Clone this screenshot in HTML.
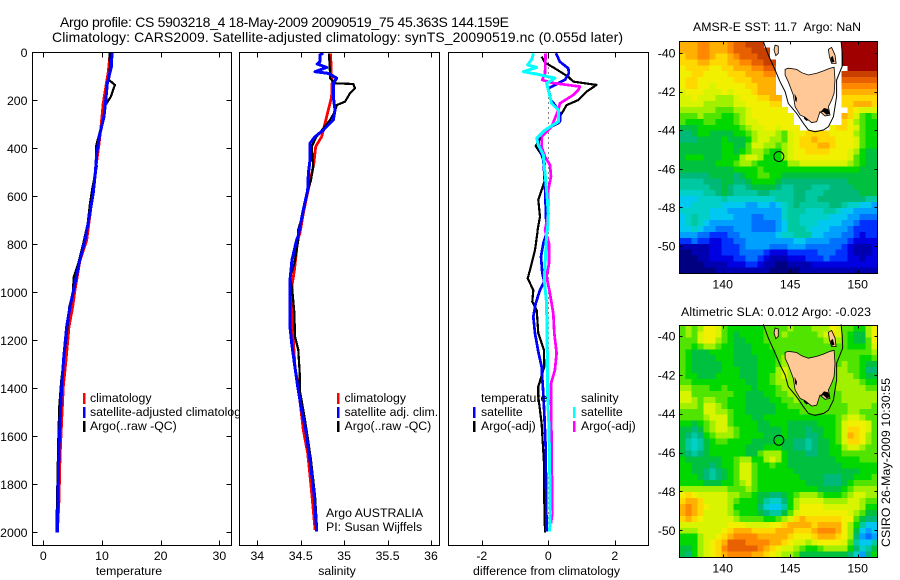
<!DOCTYPE html>
<html lang="en">
<head>
<meta charset="utf-8">
<title>Argo profile</title>
<style>
html,body{margin:0;padding:0;background:#fff;}
svg{display:block;}
text{font-family:"Liberation Sans",sans-serif;font-size:12.3px;fill:#000;}
</style>
</head>
<body>
<svg id="chart" xmlns="http://www.w3.org/2000/svg" width="900" height="580" viewBox="0 0 900 580">
<rect x="0" y="0" width="900" height="580" fill="#fff"/>
<text x="60" y="27" style="font-size:14px" textLength="449" lengthAdjust="spacing">Argo profile: CS 5903218_4 18-May-2009 20090519_75 45.363S 144.159E</text>
<text x="52" y="42" style="font-size:14px" textLength="571" lengthAdjust="spacing">Climatology: CARS2009. Satellite-adjusted climatology: synTS_20090519.nc (0.055d later)</text>

<g id="panel-temp"></g>
<g>
  <rect x="83" y="393" width="2.5" height="11" fill="#f00"/>
  <rect x="83" y="407" width="2.5" height="11" fill="#00f"/>
  <rect x="83" y="421" width="2.5" height="11" fill="#000"/>
  <text x="90" y="402">climatology</text>
  <text x="90" y="416">satellite-adjusted climatology</text>
  <text x="90" y="430">Argo(..raw -QC)</text>
</g>
<text x="129" y="575" text-anchor="middle">temperature</text>

<g id="panel-sal"></g>
<g>
  <rect x="337" y="393" width="2.5" height="11" fill="#f00"/>
  <rect x="337" y="407" width="2.5" height="11" fill="#00f"/>
  <rect x="337" y="421" width="2.5" height="11" fill="#000"/>
  <text x="344.5" y="402">climatology</text>
  <text x="344.5" y="416">satellite adj. clim.</text>
  <text x="344.5" y="430">Argo(..raw -QC)</text>
  <text x="326" y="517">Argo AUSTRALIA</text>
  <text x="326" y="531">PI: Susan Wijffels</text>
</g>
<text x="337" y="575" text-anchor="middle">salinity</text>

<g id="panel-diff"></g>
<g>
  <text x="481" y="402">temperature</text>
  <rect x="473" y="407" width="2.5" height="11" fill="#00f"/>
  <rect x="473" y="421" width="2.5" height="11" fill="#000"/>
  <text x="481" y="416">satellite</text>
  <text x="481" y="430">Argo(-adj)</text>
  <text x="581" y="402">salinity</text>
  <rect x="573" y="407" width="2.5" height="11" fill="#0ff"/>
  <rect x="573" y="421" width="2.5" height="11" fill="#f0f"/>
  <text x="581" y="416">satellite</text>
  <text x="581" y="430">Argo(-adj)</text>
</g>
<text x="473" y="575" textLength="147" lengthAdjust="spacing">difference from climatology</text>

<text x="693" y="31" textLength="168" lengthAdjust="spacing">AMSR-E SST: 11.7&#160; Argo: NaN</text>
<g id="map-sst"></g>
<text x="681" y="316" textLength="190" lengthAdjust="spacing">Altimetric SLA: 0.012 Argo: -0.023</text>
<g id="map-sla"></g>
<text transform="translate(890,547) rotate(-90)" textLength="169" lengthAdjust="spacing">CSIRO 26-May-2009 10:30:55</text>
</svg>

<script>
// ---------- profile axes ----------
const depthTicks = [0,200,400,600,800,1000,1200,1400,1600,1800,2000];
const tempTicks = [0,10,20,30];
const salTicks = [34,34.5,35,35.5,36];
const salTickLabels = ['34','34.5','35','35.5','36'];
const diffTicks = [-2,0,2];

// ---------- temperature series ----------
const climTempDepth = [0,80,212,310,393,505,644,783,866,990,1060,1143,1282,1393,1532,1685,1865,2000];
const climTemp = [11.4,11.07,10.2,9.83,9.44,8.8,8.13,7.4,6.25,5.4,5.0,4.38,3.87,3.4,3.13,2.85,2.67,2.4];
const argoTempDepth = [0,60,115,136,185,220,282,338,393,476,560,630,713,797,880,936,1006,1060,1116,1240,1365,1476,1615,1740,1935,2000];
const argoTemp = [11.3,11.36,11.2,12.2,11.5,10.6,10.2,9.55,8.98,9.1,8.4,7.95,7.56,6.8,5.96,5.2,5.0,4.43,4.26,3.7,3.07,2.73,2.55,2.45,2.28,2.3];
const satTempDepth = [0,60,130,185,268,338,421,505,588,685,783,880,963,1060,1143,1270,1365,1460,1615,1782,2000];
const satTemp = [11.7,11.6,10.9,10.7,10.34,9.66,9.1,8.86,8.5,7.84,7.1,6.1,5.4,4.55,3.98,3.5,3.2,3.0,2.73,2.55,2.38];

// ---------- salinity series ----------
const climSalDepth = [4,88,115,185,240,296,352,393,463,518,601,671,754,782,907,963,1060,1199,1310,1393,1574,1671,1810,1990];
const climSal = [34.845,34.85,34.864,34.856,34.818,34.78,34.74,34.672,34.65,34.62,34.57,34.53,34.49,34.465,34.427,34.403,34.403,34.415,34.434,34.472,34.53,34.58,34.62,34.665];
const argoSalDepth = [4,88,108,129,132,150,171,206,220,247,282,317,352,393,435,476,532,615,671,740,782,879,935,990,1088,1185,1240,1338,1407,1490,1574,1699,1851,1990];
const argoSal = [34.826,34.837,34.837,34.895,35.106,35.125,35.067,35.01,34.914,34.895,34.837,34.76,34.68,34.626,34.634,34.645,34.618,34.55,34.53,34.47,34.472,34.427,34.377,34.403,34.427,34.434,34.472,34.488,34.488,34.53,34.568,34.618,34.665,34.688];
const satSalDepth = [4,11,39,49,63,81,88,108,129,185,240,282,324,352,379,449,504,574,657,768,782,865,949,1143,1213,1296,1393,1490,1574,1699,1838,1997];
const satSal = [34.76,34.72,34.72,34.69,34.80,34.664,34.82,34.914,34.875,34.875,34.895,34.875,34.76,34.664,34.607,34.607,34.588,34.58,34.53,34.47,34.453,34.40,34.377,34.377,34.396,34.427,34.465,34.51,34.557,34.607,34.653,34.684];

// ---------- difference series ----------
const diffArgoTempDepth = [18,43,67,102,122,136,164,199,220,268,296,324,391,428,463,532,615,685,738,755,824,907,942,991,1039,1074,1171,1241,1310,1393,1434,1546,1712,1872,2000];
const diffArgoTemp = [-0.2,-0.1,0.2,0.6,0.75,1.45,1.15,0.9,0.55,0.35,0.3,-0.1,-0.38,-0.2,-0.1,-0.1,-0.3,-0.25,-0.32,-0.33,-0.4,-0.55,-0.62,-0.45,-0.48,-0.35,-0.3,-0.13,-0.12,-0.3,-0.3,-0.2,-0.13,-0.12,-0.1];
const diffSatTempDepth = [4,39,67,88,115,150,199,220,254,289,317,352,393,449,504,560,755,796,852,921,956,991,1046,1102,1171,1248,1310,1380,1421,1504,1643,1997];
const diffSatTemp = [0.23,0.35,0.6,0.62,0.5,0,0.08,0.2,0.35,0.35,0,-0.3,-0.28,-0.15,-0.12,-0.1,-0.05,-0.15,-0.22,-0.18,-0.12,-0.25,-0.38,-0.45,-0.4,-0.3,-0.2,-0.17,-0.15,-0.12,-0.08,-0.05];
const diffArgoSalDepth = [4,88,115,127,143,157,178,213,240,282,310,352,393,435,470,518,574,671,741,796,880,935,1005,1088,1171,1254,1324,1380,1434,1643,1921,1962];
const diffArgoSal = [-0.08,-0.1,-0.18,0.1,0.95,0.9,0.75,0.35,0.3,0.18,0.1,-0.2,-0.2,-0.1,0.05,0.08,0,0,-0.1,0.02,0.02,-0.05,0.05,0.15,0.18,0.25,0.2,0.08,0.08,0.1,0.12,0.08];
const diffSatSalDepth = [4,25,53,63,81,92,108,129,185,213,240,289,324,358,386,428,504,574,671,737,755,949,1046,1254,1435,1559,1712,1921,1997];
const diffSatSal = [-0.45,-0.48,-0.62,-0.35,-0.75,-0.3,0.2,-0.05,0.05,0.1,0.3,0.3,-0.1,-0.35,-0.3,-0.15,-0.1,-0.05,0,-0.02,-0.05,-0.12,-0.05,-0.03,-0.02,0.02,0.04,0.06,0.04];
const zeroLineDepths = [0,2000];

// ---------- map axes and colour levels ----------
const lonTicks = [140,145,150];
const latTicks = [-40,-42,-44,-46,-48,-50];
const floatLon = 144.159;
const floatLat = -45.363;
const levelColors = ['#000080','#0000b0','#0000e0','#0030ff','#0070ff','#00a0ff','#00c8f0','#00d0c8','#00c8a0','#00b878','#00c040','#00d800','#50e400','#a0f000','#d8f400','#f0f000','#ffd800','#ffb000','#ff8800','#e86000','#c84000','#a00000'];

// ---------- coast and contour (lon / lat) ----------
const tasmaniaLon = [144.62,144.86,145.48,145.85,146.35,146.96,147.46,147.95,148.25,148.32,148.25,148.07,147.83,147.95,147.58,147.21,146.96,146.59,146.10,145.73,145.36,145.23,144.86,144.62];
const tasmaniaLat = [-40.85,-40.79,-40.85,-41.02,-41.14,-41.05,-40.93,-40.79,-40.74,-41.40,-42.09,-42.44,-42.78,-43.21,-43.26,-43.04,-43.56,-43.61,-43.33,-43.21,-42.78,-42.18,-41.49,-41.14];
const flindersLon = [147.83,148.07,148.32,148.4,148.07,147.9];
const flindersLat = [-39.81,-39.71,-40.10,-40.54,-40.54,-40.19];
const kingLon = [143.88,144.12,144.12,143.93,143.8];
const kingLat = [-39.59,-39.64,-40.02,-40.14,-39.84];
const inletALon = [145.32,145.5,145.47,145.36];
const inletALat = [-42.1,-42.35,-42.55,-42.45];
const inletBLon = [147.2,147.5,147.8,147.95,147.7,147.45];
const inletBLat = [-43.1,-42.85,-42.9,-43.15,-43.2,-43.05];
const inletCLon = [146.05,146.35,146.2,146.0];
const inletCLat = [-43.28,-43.48,-43.52,-43.38];
const inletDLon = [147.98,148.15,148.28,148.08];
const inletDLat = [-40.25,-40.15,-40.45,-40.5];
const contourLon = [143.01,143.38,143.88,144.25,144.62,144.86,145.48,145.98,146.35,146.84,147.46,147.83,148.2,148.44,148.44,148.89,148.86,148.77];
const contourLat = [-39.40,-40.10,-40.88,-41.49,-42.0,-42.61,-43.13,-43.64,-43.99,-44.08,-43.99,-43.82,-43.3,-42.26,-41.40,-40.62,-40.02,-39.40];

// ---------- SST grid: colour level per cell, null = masked ----------
const n = null;
const sstGrid = [
[17,17,17,18,18,17,17,17,18,19,19,20,20,20,n,n,n,n,n,n,n,n,n,n,n,n,n,21,21,21,21,21,21],
[17,17,17,18,18,17,17,17,18,19,19,19,20,20,20,n,n,n,n,n,n,n,n,n,n,n,n,21,21,21,21,21,21],
[16,17,17,18,18,17,16,16,17,18,19,19,19,20,20,n,n,n,n,n,n,n,n,n,n,n,n,21,21,21,21,21,21],
[16,16,16,17,17,16,16,16,17,17,18,18,19,19,20,20,n,n,n,n,n,n,n,n,n,n,n,21,21,21,21,21,21],
[15,16,16,16,16,15,15,16,16,17,17,17,18,18,19,19,n,n,n,n,n,n,n,n,n,n,n,n,21,21,21,21,21],
[15,15,16,16,15,15,15,15,16,16,16,17,17,17,18,18,n,n,n,n,n,n,n,n,n,n,n,20,20,20,20,20,20],
[15,16,16,15,15,15,15,15,15,16,16,16,17,17,17,17,n,n,n,n,n,n,n,n,n,n,n,19,19,19,19,19,19],
[15,16,16,15,15,14,15,15,15,15,15,16,16,17,17,17,n,n,n,n,n,n,n,n,n,n,n,18,18,18,18,18,18],
[14,15,15,15,14,14,14,15,14,15,15,15,16,17,17,17,n,n,n,n,n,n,n,n,n,n,n,17,17,17,17,17,17],
[14,14,15,14,14,14,13,13,13,14,15,15,15,16,16,17,17,n,n,n,n,n,n,n,n,n,n,16,16,16,16,16,16],
[14,14,14,14,13,13,13,13,13,14,14,15,15,15,15,16,16,n,n,n,n,n,n,n,n,n,n,16,16,17,17,17,16],
[13,13,13,13,13,13,12,12,12,13,13,14,15,15,15,15,15,15,n,n,n,n,n,n,n,n,n,n,16,15,14,14,14],
[12,12,12,13,12,12,12,11,11,12,13,14,15,15,15,15,15,15,15,n,n,n,n,n,n,n,n,17,16,14,12,11,12],
[12,11,11,11,12,12,11,11,11,12,13,14,14,15,15,15,15,15,15,n,n,n,n,n,n,n,n,16,15,13,12,11,11],
[10,10,10,11,11,11,11,11,11,11,12,13,14,14,15,15,14,15,15,15,n,n,n,n,n,15,16,16,15,14,12,11,11],
[9,9,10,11,11,10,10,10,10,11,11,12,13,14,14,14,13,12,14,15,15,16,16,16,16,15,15,15,15,13,12,11,11],
[9,9,9,10,10,10,10,11,10,10,10,11,13,14,14,13,13,12,14,15,16,16,17,16,16,16,15,15,15,14,12,11,11],
[10,10,10,10,10,10,10,11,11,10,10,12,14,14,13,13,12,13,14,15,16,16,16,17,17,16,15,15,15,14,12,11,11],
[10,10,10,10,10,10,10,11,11,10,11,12,13,13,12,11,11,13,14,15,15,16,16,16,16,15,15,15,14,13,11,10,10],
[10,11,11,11,10,10,10,11,11,11,13,14,14,13,11,11,11,13,14,15,15,15,15,15,15,15,15,15,14,12,11,10,10],
[10,10,10,10,10,10,11,11,11,12,13,13,12,11,11,11,11,11,13,13,14,14,14,14,14,14,14,14,13,12,11,10,10],
[10,10,10,10,10,10,10,10,10,11,11,11,11,12,11,11,11,11,11,11,11,11,11,11,11,11,11,11,11,11,10,10,10],
[9,9,9,9,9,10,10,10,10,9,10,11,11,12,12,11,11,10,10,10,10,10,10,10,10,10,10,10,10,10,10,10,10],
[8,8,8,8,9,9,9,10,10,9,9,10,11,11,11,11,10,9,9,9,9,9,9,9,9,9,9,9,10,10,10,10,10],
[8,8,8,8,8,9,9,10,9,8,8,9,10,10,10,10,9,8,8,9,9,9,8,8,8,9,9,9,9,10,10,10,10],
[7,7,7,7,8,8,9,10,9,8,8,8,8,9,9,8,8,8,8,9,9,8,8,8,9,9,9,9,9,9,10,10,10],
[6,6,6,7,7,7,7,8,7,7,7,7,7,7,7,7,8,8,8,9,9,8,8,9,9,9,9,9,9,9,9,8,8],
[6,6,7,7,7,7,7,6,6,6,6,5,5,6,6,5,6,7,8,9,8,8,8,8,8,9,9,8,7,7,6,6,5],
[7,7,7,7,7,6,6,6,5,5,5,5,5,5,5,5,5,7,8,8,8,7,7,7,8,8,7,6,6,5,5,5,5],
[6,7,8,7,7,6,6,6,6,5,5,5,4,4,5,5,5,7,8,8,7,7,7,7,7,6,6,6,5,5,4,4,4],
[6,7,8,7,6,5,5,5,5,5,5,5,4,4,4,4,5,6,8,8,7,7,7,6,6,6,6,5,5,4,3,3,3],
[6,6,7,6,5,5,4,4,4,5,5,5,4,4,4,4,5,6,8,8,8,7,6,6,6,5,5,5,4,3,3,3,3],
[5,5,5,4,4,3,3,3,4,4,5,5,5,5,5,5,6,7,7,8,8,8,6,6,5,5,5,4,4,3,2,3,3],
[3,3,4,3,3,2,2,3,3,4,4,5,5,5,5,5,5,5,5,6,6,5,5,5,5,4,4,4,3,2,2,2,2],
[1,1,1,1,1,2,2,3,3,3,4,5,5,5,5,4,4,4,5,5,5,4,4,4,4,4,4,3,2,1,1,1,2],
[0,0,1,1,1,2,2,3,3,3,4,4,4,4,3,2,2,2,3,3,3,3,3,4,4,4,3,3,2,1,1,1,2],
[0,0,0,1,1,2,2,2,2,3,3,4,4,3,2,1,1,1,2,2,2,3,3,3,4,3,3,3,2,2,1,2,2],
[0,0,0,0,1,1,1,1,2,2,2,3,3,2,1,1,0,0,1,1,1,1,2,2,2,2,2,2,2,2,2,2,2],
[0,0,0,0,0,0,1,1,1,1,1,1,1,1,1,0,0,0,0,0,1,1,1,1,1,1,1,1,1,1,1,1,1]
];

// ---------- SLA grid: colour level per cell ----------
const slaGrid = [
[12,13,12,13,15,15,14,12,11,11,11,11,11,11,12,12,12,12,13,12,12,12,13,13,13,15,14,12,12,11,11,13,15],
[12,13,12,14,15,15,14,12,11,10,11,11,11,11,12,12,12,13,12,12,12,12,12,13,14,16,14,12,11,10,10,13,15],
[12,12,12,14,15,15,13,12,11,10,10,11,11,11,12,12,12,12,12,12,12,12,12,12,13,14,13,12,11,10,10,12,15],
[12,12,11,12,13,13,12,11,11,10,10,10,11,11,11,12,12,12,12,12,12,12,12,12,12,12,12,12,11,11,11,12,14],
[12,11,10,10,10,11,11,11,11,10,10,10,11,11,11,11,12,12,12,12,12,12,12,12,12,12,12,12,12,12,12,12,13],
[12,11,10,10,10,10,11,11,11,10,10,10,10,11,11,11,12,13,12,12,12,12,12,12,12,12,12,12,12,12,11,11,12],
[12,11,10,10,10,10,10,11,11,10,10,10,10,11,11,11,12,13,13,12,12,12,12,12,12,12,12,13,12,12,11,10,10],
[12,11,10,10,10,10,10,11,11,11,10,10,10,11,11,11,13,14,13,12,12,12,12,12,12,12,13,13,12,12,11,9,9],
[12,11,11,10,10,10,11,11,11,11,10,10,10,11,11,12,13,14,13,12,12,12,12,12,12,12,13,13,13,12,11,10,10],
[12,12,11,11,11,11,11,11,11,11,11,10,10,11,11,12,13,13,13,13,12,12,12,12,12,12,13,13,13,13,12,11,11],
[13,13,12,12,12,11,11,12,11,11,11,11,10,11,11,11,12,13,13,13,12,12,12,12,12,12,13,13,13,13,13,12,12],
[14,14,12,12,12,12,12,12,12,11,11,10,10,10,11,11,12,12,13,13,12,12,12,12,12,12,12,13,13,13,13,13,13],
[14,14,13,12,13,13,12,12,11,11,11,10,10,10,10,11,11,12,12,13,12,12,12,12,12,12,12,13,13,13,13,13,13],
[13,13,13,12,14,14,13,12,11,11,11,10,10,10,10,10,11,11,12,12,12,12,12,12,12,12,12,12,13,13,13,13,12],
[12,12,12,12,14,14,13,13,12,11,11,10,10,10,10,10,11,11,11,11,12,12,12,12,12,12,12,12,13,13,12,12,12],
[12,12,12,12,13,14,14,14,12,11,11,11,10,10,11,11,11,11,11,11,11,11,11,11,11,11,12,13,14,14,13,12,12],
[11,11,10,11,12,13,14,14,12,11,11,11,11,10,10,11,11,11,10,10,10,10,10,11,11,11,12,14,15,15,15,14,12],
[10,10,9,10,12,13,14,14,13,12,11,11,11,10,10,10,10,11,10,10,10,9,10,10,11,11,12,14,16,16,15,14,12],
[10,9,8,9,11,12,13,13,13,12,11,11,11,11,10,10,10,11,10,10,10,9,9,10,11,11,12,14,17,16,15,13,12],
[10,8,7,8,10,11,12,12,11,11,11,11,10,10,10,10,11,10,10,9,9,8,9,10,10,11,12,14,16,16,15,13,12],
[10,8,7,8,10,11,11,11,11,11,11,10,10,10,11,11,11,10,10,9,9,8,9,10,10,11,11,13,14,14,13,12,12],
[10,9,8,9,10,11,11,11,11,11,11,10,10,12,13,13,13,11,10,10,10,9,9,10,10,11,11,12,12,12,12,12,12],
[11,10,10,10,10,10,10,11,11,12,13,13,11,11,13,14,13,11,10,10,10,10,10,10,10,10,11,11,11,11,12,12,12],
[11,11,10,10,10,9,10,11,11,12,14,14,12,11,11,12,11,11,10,10,10,10,10,10,10,10,10,11,11,11,11,11,11],
[11,11,10,10,9,8,9,10,11,12,14,14,12,11,11,11,11,11,11,10,10,10,10,10,10,10,10,10,10,10,11,11,11],
[11,11,11,10,9,8,9,10,11,12,14,14,12,11,11,11,11,11,11,11,10,10,10,10,9,9,9,10,10,11,11,11,12],
[11,11,11,11,10,10,10,11,11,12,13,14,12,11,11,11,11,11,11,11,11,10,10,10,9,9,9,10,11,12,12,12,12],
[13,13,13,13,13,13,13,13,12,12,12,13,12,11,11,11,11,11,11,11,11,11,11,10,10,10,10,11,12,13,13,13,13],
[15,16,15,14,14,14,14,14,13,13,12,12,11,10,10,9,9,10,11,12,13,13,13,12,11,11,11,12,13,14,14,13,13],
[16,17,17,16,14,14,14,14,13,12,11,11,11,10,8,7,7,9,11,13,14,14,14,14,13,13,13,13,14,14,13,12,12],
[17,18,17,16,15,14,14,14,13,11,11,11,11,9,7,6,6,8,11,13,15,15,15,15,14,14,14,14,14,14,13,11,11],
[17,18,17,16,14,14,14,14,13,12,11,11,11,10,9,8,8,10,12,14,15,15,15,15,15,15,15,15,14,13,12,10,10],
[16,17,16,15,14,14,14,14,14,13,12,12,12,12,11,11,12,13,14,16,17,16,16,16,16,16,16,15,15,12,10,9,9],
[14,14,14,14,14,14,14,14,15,15,15,14,14,14,14,15,15,16,17,17,17,17,16,17,17,17,17,15,13,11,8,6,6],
[13,13,13,14,14,14,14,15,16,17,17,17,16,16,16,16,17,17,17,16,16,16,17,18,18,18,17,15,13,10,6,5,6],
[11,11,11,13,14,14,15,16,17,18,18,18,18,17,17,17,17,17,16,15,15,15,16,17,17,17,16,15,13,9,5,4,5],
[11,11,11,13,14,15,16,17,19,19,19,18,18,18,18,17,17,16,15,14,14,13,14,15,15,15,15,14,12,8,6,6,8],
[10,10,11,13,14,15,16,18,19,19,19,19,19,18,17,16,15,14,14,13,12,11,11,12,13,13,13,13,11,9,7,8,10],
[10,9,11,13,14,15,16,17,18,18,18,18,17,17,16,15,14,13,13,12,10,10,10,10,10,10,10,10,9,7,5,9,11]
];

const SVGNS = 'http://www.w3.org/2000/svg';
function mk(tag, attrs, parent){
  const el = document.createElementNS(SVGNS, tag);
  for (const k in attrs) el.setAttribute(k, attrs[k]);
  parent.appendChild(el);
  return el;
}

// depth axis is common to all three profile panels
function depthY(d){ return 52.3 + d * 0.24; }
const PANEL_TOP = 52.5, PANEL_BOTTOM = 545.5;

function drawPanel(group, left, right, xFn, xTicks, xLabels, showY){
  const bg = mk('rect', {x:left, y:PANEL_TOP, width:right-left, height:PANEL_BOTTOM-PANEL_TOP, fill:'#fff', stroke:'none'}, group);
  
  
  const marks = mk('g', {}, group);
  
  
  const frame = mk('rect', {x:left, y:PANEL_TOP, width:right-left, height:PANEL_BOTTOM-PANEL_TOP, fill:'none', stroke:'#000', 'stroke-width':1, 'shape-rendering':'crispEdges'}, group);
  
  
  xTicks.forEach(function(t, i){
    const x = Math.round(xFn(t)) + 0.5;
    const a = mk('line', {x1:x, x2:x, y1:PANEL_TOP, y2:PANEL_TOP+5, stroke:'#000', 'shape-rendering':'crispEdges'}, group);
    
    
    const b = mk('line', {x1:x, x2:x, y1:PANEL_BOTTOM-5, y2:PANEL_BOTTOM, stroke:'#000', 'shape-rendering':'crispEdges'}, group);
    
    
    const lab = mk('text', {x:xFn(t), y:560, 'text-anchor':'middle'}, group);
    lab.textContent = xLabels[i];
    
    
  });
  if (showY) depthTicks.forEach(function(t){
    const y = Math.round(depthY(t)) + 0.5;
    const a = mk('line', {x1:left, x2:left+5, y1:y, y2:y, stroke:'#000', 'shape-rendering':'crispEdges'}, group);
    
    
    const b = mk('line', {x1:right-5, x2:right, y1:y, y2:y, stroke:'#000', 'shape-rendering':'crispEdges'}, group);
    
    
    const lab = mk('text', {x:left-5, y:depthY(t)+4.5, 'text-anchor':'end'}, group);
    lab.textContent = String(t);
    
    
  });
  return marks;
}

function drawSeries(parent, depths, values, xFn, color, width, name){
  const pts = depths.map(function(d, i){ return xFn(values[i]).toFixed(1) + ',' + depthY(d).toFixed(1); }).join(' ');
  const line = mk('polyline', {points:pts, fill:'none', stroke:color, 'stroke-width':width, 'stroke-linejoin':'round', 'shape-rendering':'crispEdges'}, parent);
  
  
}

function tempX(v){ return 43.3 + 5.87 * v; }
function salX(v){ return 257.3 + 86.85 * (v - 34); }
function diffX(v){ return 548.3 + 33.25 * v; }

const tempMarks = drawPanel(document.getElementById('panel-temp'), 32.5, 231.5, tempX, tempTicks, tempTicks.map(String), true);
drawSeries(tempMarks, climTempDepth, climTemp, tempX, '#f00', 2.8, 'climatology-temperature-line');
drawSeries(tempMarks, argoTempDepth, argoTemp, tempX, '#000', 2.2, 'argo-temperature-line');
drawSeries(tempMarks, satTempDepth, satTemp, tempX, '#00f', 3, 'satellite-temperature-line');

// panel 2 is placed after the panel 1 legend so it clips the long legend entry
const salGroup = document.getElementById('panel-sal');
const salMarks = drawPanel(salGroup, 239.5, 439.5, salX, salTicks, salTickLabels, false);
drawSeries(salMarks, climSalDepth, climSal, salX, '#f00', 2.8, 'climatology-salinity-line');
drawSeries(salMarks, argoSalDepth, argoSal, salX, '#000', 2.2, 'argo-salinity-line');
drawSeries(salMarks, satSalDepth, satSal, salX, '#00f', 3, 'satellite-salinity-line');

const diffMarks = drawPanel(document.getElementById('panel-diff'), 448.5, 648.5, diffX, diffTicks, diffTicks.map(String), false);
const zeroLine = mk('line', {x1:diffX(0), x2:diffX(0), y1:depthY(zeroLineDepths[0]), y2:depthY(zeroLineDepths[1]), stroke:'#000', 'stroke-width':1, 'stroke-dasharray':'1 4', 'shape-rendering':'crispEdges'}, diffMarks);


drawSeries(diffMarks, diffArgoTempDepth, diffArgoTemp, diffX, '#000', 2.2, 'argo-temperature-difference-line');
drawSeries(diffMarks, diffSatTempDepth, diffSatTemp, diffX, '#00f', 2.7, 'satellite-temperature-difference-line');
drawSeries(diffMarks, diffArgoSalDepth, diffArgoSal, diffX, '#f0f', 2.7, 'argo-salinity-difference-line');
drawSeries(diffMarks, diffSatSalDepth, diffSatSal, diffX, '#0ff', 3, 'satellite-salinity-difference-line');

// ---------- maps ----------
const MAP_LEFT = 679.5, MAP_RIGHT = 877.5;
function lonX(lon){ return 722.7 + (lon - 140) * 13.5; }

function drawMap(group, top, bottom, lat40Y, pxPerDeg, grid, showLabels, prefix){
  function latY(lat){ return lat40Y + (-40 - lat) * pxPerDeg; }
  function pts(lons, lats){
    return lons.map(function(v, i){ return lonX(v).toFixed(1) + ',' + latY(lats[i]).toFixed(1); }).join(' ');
  }
  const bg = mk('rect', {x:MAP_LEFT, y:top, width:MAP_RIGHT-MAP_LEFT, height:bottom-top, fill:'#fff'}, group);
  
  
  const rows = grid.length;
  const cols = grid[0].length;
  const cw = (MAP_RIGHT - MAP_LEFT) / cols;
  const ch = (bottom - top) / rows;
  const cells = mk('g', {'shape-rendering':'crispEdges'}, group);
  
  
  for (let r = 0; r < rows; r++){
    for (let c = 0; c < cols; c++){
      const v = grid[r][c];
      if (v === null || v === undefined) continue;
      const idx = Math.max(0, Math.min(levelColors.length - 1, Math.round(v)));
      const cell = mk('rect', {x:MAP_LEFT + c * cw, y:top + r * ch, width:cw + 0.5, height:ch + 0.5, fill:levelColors[idx]}, cells);
      
      
    }
  }
  const land = [[tasmaniaLon, tasmaniaLat, 'tasmania'], [flindersLon, flindersLat, 'flinders-island'], [kingLon, kingLat, 'king-island']];
  land.forEach(function(l){
    const p = mk('polygon', {points:pts(l[0], l[1]), fill:'#ffc896', stroke:'#000', 'stroke-width':0.8}, group);
    
    
  });
  const inlets = [[inletALon, inletALat], [inletBLon, inletBLat], [inletCLon, inletCLat], [inletDLon, inletDLat]];
  inlets.forEach(function(l){
    const p = mk('polygon', {points:pts(l[0], l[1]), fill:'#000'}, group);
    
    
  });
  const contour = mk('polyline', {points:pts(contourLon, contourLat), fill:'none', stroke:'#000', 'stroke-width':1}, group);
  
  
  const marker = mk('circle', {cx:lonX(floatLon), cy:latY(floatLat), r:5, fill:'none', stroke:'#000', 'stroke-width':1}, group);
  
  
  const frame = mk('rect', {x:MAP_LEFT, y:top, width:MAP_RIGHT-MAP_LEFT, height:bottom-top, fill:'none', stroke:'#000', 'shape-rendering':'crispEdges'}, group);
  
  
  lonTicks.forEach(function(t){
    const x = Math.round(lonX(t)) + 0.5;
    const a = mk('line', {x1:x, x2:x, y1:top, y2:top+3, stroke:'#000', 'shape-rendering':'crispEdges'}, group);
    
    
    const b = mk('line', {x1:x, x2:x, y1:bottom-3, y2:bottom, stroke:'#000', 'shape-rendering':'crispEdges'}, group);
    
    
    const lab = mk('text', {x:lonX(t), y:bottom+15, 'text-anchor':'middle'}, group);
    lab.textContent = String(t);
    
    
  });
  latTicks.forEach(function(t){
    const y = Math.round(latY(t)) + 0.5;
    const a = mk('line', {x1:MAP_LEFT, x2:MAP_LEFT+3, y1:y, y2:y, stroke:'#000', 'shape-rendering':'crispEdges'}, group);
    
    
    const b = mk('line', {x1:MAP_RIGHT-3, x2:MAP_RIGHT, y1:y, y2:y, stroke:'#000', 'shape-rendering':'crispEdges'}, group);
    
    
    const lab = mk('text', {x:MAP_LEFT-4, y:latY(t)+4.5, 'text-anchor':'end'}, group);
    lab.textContent = String(t);
    
    
  });
}

drawMap(document.getElementById('map-sst'), 41.5, 273.5, 53, 19.3, sstGrid, true, 'sst');
drawMap(document.getElementById('map-sla'), 325.5, 557.5, 336, 19.43, slaGrid, true, 'sla');
</script>
</body>
</html>
